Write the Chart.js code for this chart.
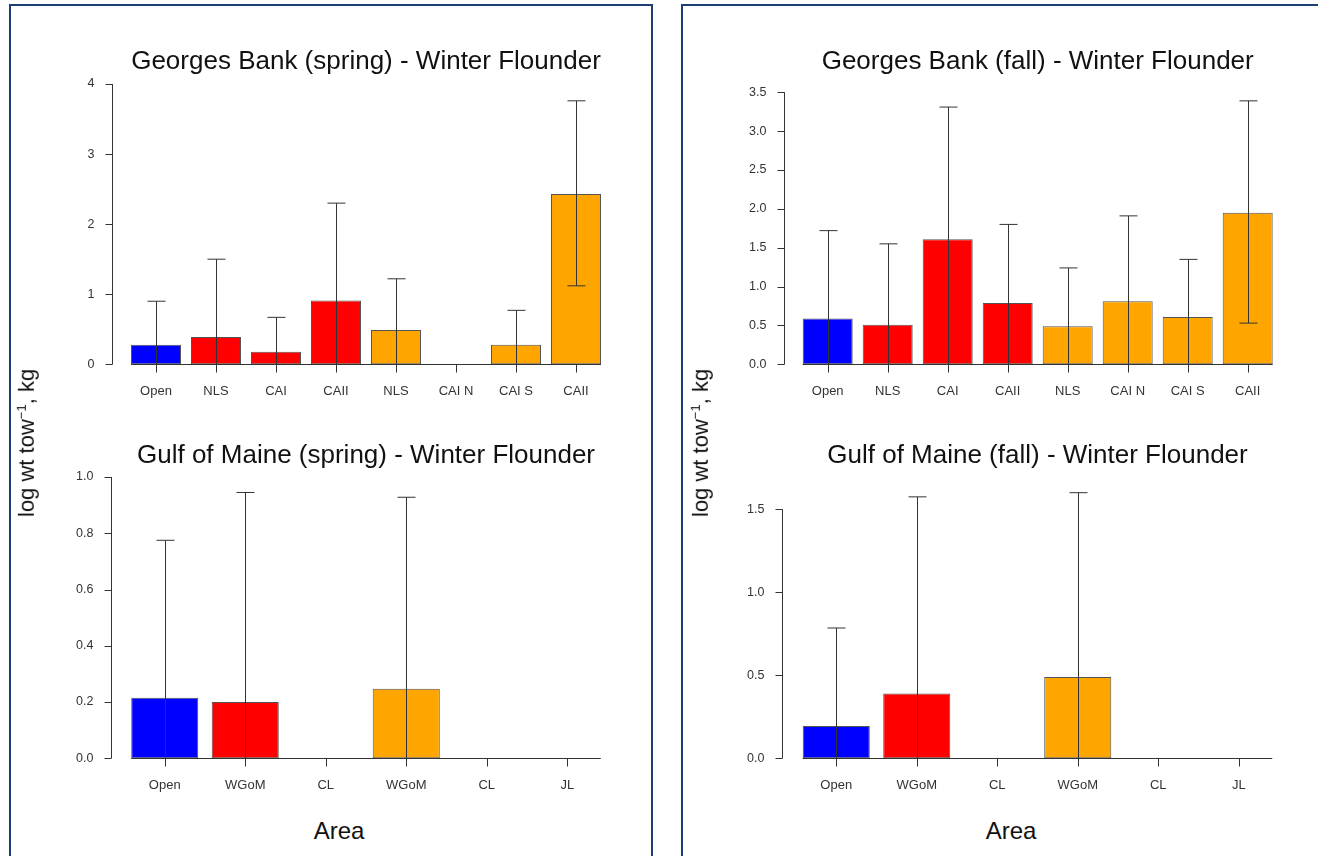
<!DOCTYPE html>
<html>
<head>
<meta charset="utf-8">
<script src="https://cdn.jsdelivr.net/npm/chart.js@4.4.1/dist/chart.umd.min.js"></script>
<style>
  html, body { margin: 0; padding: 0; background: #fff; }
  body { width: 1318px; height: 856px; position: relative; overflow: hidden;
         font-family: Arial, "Liberation Sans", sans-serif; color: #111; }
  .panel { position: absolute; border: 2px solid #1d3f74; border-bottom: none; height: 900px; }
  canvas { position: absolute; }
  .ylab { position: absolute; font-size: 22px; white-space: nowrap;
          transform: translate(-50%, -50%) rotate(-90deg); }
  .ylab sup { font-size: 13px; }
  .xlab { position: absolute; font-size: 24px; transform: translate(-50%, -50%); }
</style>
</head>
<body>
<div class="panel" style="left:9px; top:4px; width:640px;"></div>
<div class="panel" style="left:681px; top:4px; width:700px; border-right:none;"></div>

<canvas id="gbSpring"></canvas>
<canvas id="gbFall"></canvas>
<canvas id="gomSpring"></canvas>
<canvas id="gomFall"></canvas>

<div class="ylab" style="left:27px; top:443px;">log wt tow<sup>−1</sup>, kg</div>
<div class="ylab" style="left:701px; top:443px;">log wt tow<sup>−1</sup>, kg</div>
<div class="xlab" style="left:339px; top:831px;">Area</div>
<div class="xlab" style="left:1011px; top:831px;">Area</div>

<script>
// Georges Bank areas
const gbLabels = ['Open', 'NLS', 'CAI', 'CAII', 'NLS', 'CAI N', 'CAI S', 'CAII'];
const gbGroups = ['open', 'red', 'red', 'red', 'orange', 'orange', 'orange', 'orange'];
const gbSpringMean  = [0.28, 0.39, 0.18, 0.91, 0.49, 0, 0.28, 2.43];
const gbSpringUpper = [0.90, 1.50, 0.67, 2.30, 1.22, 0, 0.77, 3.76];
const gbSpringLower = [0, 0, 0, 0, 0, 0, 0, 1.12];
const gbFallMean  = [0.59, 0.51, 1.61, 0.79, 0.49, 0.81, 0.61, 1.95];
const gbFallUpper = [1.72, 1.55, 3.31, 1.80, 1.24, 1.91, 1.35, 3.39];
const gbFallLower = [0, 0, 0, 0, 0, 0, 0, 0.53];

// Gulf of Maine areas
const gomLabels = ['Open', 'WGoM', 'CL', 'WGoM', 'CL', 'JL'];
const gomGroups = ['open', 'red', 'red', 'orange', 'orange', 'orange'];
const gomSpringMean  = [0.215, 0.20, 0, 0.247, 0, 0];
const gomSpringUpper = [0.775, 0.945, 0, 0.928, 0, 0];
const gomSpringLower = [0, 0, 0, 0, 0, 0];
const gomFallMean  = [0.195, 0.39, 0, 0.49, 0, 0];
const gomFallUpper = [0.785, 1.575, 0, 1.60, 0, 0];
const gomFallLower = [0, 0, 0, 0, 0, 0];

// y axis ticks
const gbSpringTicks = [0, 1, 2, 3, 4];
const gbFallTicks = [0, 0.5, 1, 1.5, 2, 2.5, 3, 3.5];
const gomSpringTicks = [0, 0.2, 0.4, 0.6, 0.8, 1.0];
const gomFallTicks = [0, 0.5, 1.0, 1.5];

const groupColors = { open: '#0000ff', red: '#ff0000', orange: '#ffa500' };

// base-graphics style axes, error bars and title
const rStyle = {
    id: 'rStyle',
    afterDatasetsDraw(chart, args, o) {
        const ctx = chart.ctx;
        const a = chart.chartArea;
        const ys = chart.scales.y;
        const meta = chart.getDatasetMeta(0);
        const y0 = ys.getPixelForValue(0);
        ctx.save();
        ctx.strokeStyle = '#333';
        ctx.lineWidth = 1;

        // error bars
        meta.data.forEach((bar, i) => {
            const up = o.upper[i], lo = o.lower[i];
            if (up <= lo) return;
            const x = Math.round(bar.x) + 0.5;
            const yu = ys.getPixelForValue(up), yl = ys.getPixelForValue(lo);
            ctx.beginPath();
            ctx.moveTo(x, yl); ctx.lineTo(x, yu);
            ctx.moveTo(x - 9, yu); ctx.lineTo(x + 9, yu);
            if (lo > 0) { ctx.moveTo(x - 9, yl); ctx.lineTo(x + 9, yl); }
            ctx.stroke();
        });

        // baseline and category ticks
        const first = meta.data[0], last = meta.data[meta.data.length - 1];
        const by = Math.round(y0) + 0.5;
        ctx.beginPath();
        ctx.moveTo(first.x - first.width / 2, by);
        ctx.lineTo(last.x + last.width / 2, by);
        meta.data.forEach(bar => {
            const x = Math.round(bar.x) + 0.5;
            ctx.moveTo(x, by); ctx.lineTo(x, by + 8);
        });
        ctx.stroke();

        ctx.fillStyle = '#333';
        ctx.font = '13px Arial, "Liberation Sans", sans-serif';
        ctx.textAlign = 'center';
        ctx.textBaseline = 'middle';
        chart.data.labels.forEach((lab, i) => ctx.fillText(lab, meta.data[i].x, y0 + 27));

        // y axis
        const ax = Math.round(a.left - 14) + 0.5;
        const tTop = ys.getPixelForValue(o.ticks[o.ticks.length - 1]);
        ctx.beginPath();
        ctx.moveTo(ax, tTop); ctx.lineTo(ax, y0);
        o.ticks.forEach(t => {
            const ty = Math.round(ys.getPixelForValue(t)) + 0.5;
            ctx.moveTo(ax, ty); ctx.lineTo(ax - 7, ty);
        });
        ctx.stroke();
        ctx.font = '12.5px Arial, "Liberation Sans", sans-serif';
        ctx.textAlign = 'right';
        o.ticks.forEach(t => ctx.fillText(t.toFixed(o.decimals), ax - 18, ys.getPixelForValue(t)));

        // title
        ctx.fillStyle = '#111';
        ctx.font = '26px Arial, "Liberation Sans", sans-serif';
        ctx.textAlign = 'center';
        ctx.fillText(o.title, (a.left + a.right) / 2, o.titleY);
        ctx.restore();
    }
};

function makeChart(id, box, area, cfg) {
    const canvas = document.getElementById(id);
    canvas.width = box.w; canvas.height = box.h;
    canvas.style.left = box.x + 'px'; canvas.style.top = box.y + 'px';
    canvas.style.width = box.w + 'px'; canvas.style.height = box.h + 'px';
    const ticks = cfg.ticks;
    new Chart(canvas.getContext('2d'), {
        type: 'bar',
        data: {
            labels: cfg.labels,
            datasets: [{
                data: cfg.mean,
                backgroundColor: cfg.groups.map(g => groupColors[g]),
                borderColor: 'rgba(40,40,40,0.8)',
                borderWidth: 1,
                borderSkipped: false,
                categoryPercentage: 1,
                barPercentage: 0.833
            }]
        },
        options: {
            responsive: false,
            animation: false,
            layout: {
                padding: {
                    left: area.left - box.x,
                    right: box.x + box.w - area.right,
                    top: area.top - box.y,
                    bottom: box.y + box.h - area.bottom
                }
            },
            scales: {
                x: { display: false, offset: true },
                y: { display: false, min: ticks[0], max: ticks[ticks.length - 1] }
            },
            plugins: {
                legend: { display: false },
                tooltip: { enabled: false },
                rStyle: {
                    title: cfg.title,
                    titleY: cfg.titleY - box.y,
                    ticks: ticks,
                    decimals: cfg.decimals,
                    upper: cfg.upper,
                    lower: cfg.lower
                }
            }
        },
        plugins: [rStyle]
    });
}

makeChart('gbSpring', { x: 12, y: 8, w: 636, h: 412 },
    { left: 126, right: 606, top: 84, bottom: 364.3 },
    { title: 'Georges Bank (spring) - Winter Flounder', titleY: 62,
      labels: gbLabels, groups: gbGroups, mean: gbSpringMean,
      upper: gbSpringUpper, lower: gbSpringLower, ticks: gbSpringTicks, decimals: 0 });

makeChart('gbFall', { x: 684, y: 8, w: 632, h: 412 },
    { left: 797.7, right: 1277.7, top: 92.3, bottom: 364.3 },
    { title: 'Georges Bank (fall) - Winter Flounder', titleY: 62,
      labels: gbLabels, groups: gbGroups, mean: gbFallMean,
      upper: gbFallUpper, lower: gbFallLower, ticks: gbFallTicks, decimals: 1 });

makeChart('gomSpring', { x: 12, y: 420, w: 636, h: 390 },
    { left: 124.5, right: 607.5, top: 477, bottom: 758.3 },
    { title: 'Gulf of Maine (spring) - Winter Flounder', titleY: 456,
      labels: gomLabels, groups: gomGroups, mean: gomSpringMean,
      upper: gomSpringUpper, lower: gomSpringLower, ticks: gomSpringTicks, decimals: 1 });

makeChart('gomFall', { x: 684, y: 420, w: 632, h: 390 },
    { left: 796, right: 1279, top: 509.3, bottom: 758.3 },
    { title: 'Gulf of Maine (fall) - Winter Flounder', titleY: 456,
      labels: gomLabels, groups: gomGroups, mean: gomFallMean,
      upper: gomFallUpper, lower: gomFallLower, ticks: gomFallTicks, decimals: 1 });
</script>
</body>
</html>
